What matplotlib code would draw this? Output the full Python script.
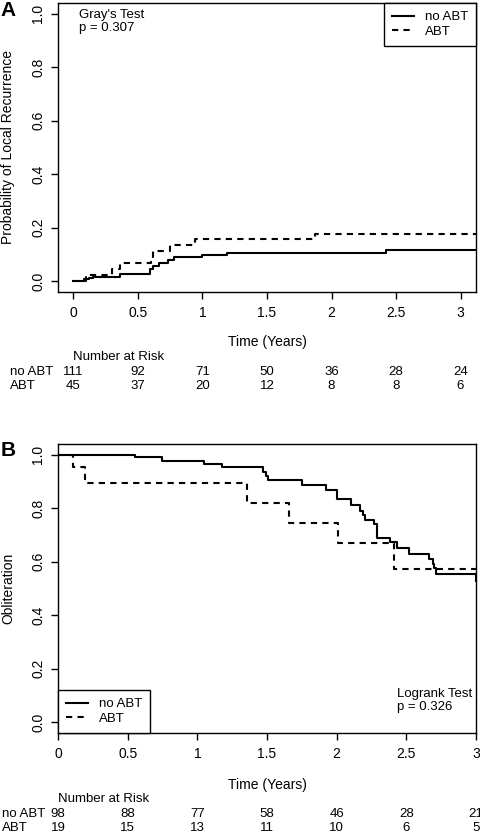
import matplotlib
matplotlib.use("Agg")
import matplotlib.pyplot as plt
import matplotlib.transforms as mtransforms

plt.rcParams['font.family'] = ['Liberation Sans', 'DejaVu Sans']

# ---- Panel A: cumulative incidence of local recurrence ----
a_noabt_t = [0, 0.085, 0.12, 0.15, 0.36, 0.59, 0.62, 0.66, 0.73, 0.78, 1.0, 1.19, 2.42, 3.12]
a_noabt_y = [0, 0.0075, 0.0125, 0.0175, 0.0275, 0.046, 0.059, 0.069, 0.081, 0.09, 0.0975, 0.105, 0.1175, 0.1175]
a_abt_t = [0, 0.1, 0.3, 0.36, 0.6, 0.62, 0.75, 0.94, 1.87, 3.12]
a_abt_y = [0, 0.022, 0.045, 0.068, 0.09, 0.113, 0.135, 0.157, 0.178, 0.178]
a_risk_noabt = [111, 92, 71, 50, 36, 28, 24]
a_risk_abt = [45, 37, 20, 12, 8, 8, 6]

# ---- Panel B: obliteration (Kaplan-Meier) ----
b_noabt_t = [0, 0.55, 0.75, 1.05, 1.18, 1.47, 1.49, 1.51, 1.75, 1.92, 2.0, 2.1, 2.17,
             2.19, 2.2, 2.27, 2.29, 2.38, 2.43, 2.52, 2.665, 2.69, 2.70, 2.71, 3.0]
b_noabt_y = [1.0, 0.99, 0.978, 0.965, 0.953, 0.937, 0.92, 0.905, 0.886, 0.869, 0.834, 0.8125, 0.79,
             0.775, 0.756, 0.74, 0.69, 0.674, 0.651, 0.6275, 0.61, 0.59, 0.575, 0.5525, 0.5275]
b_abt_t = [0, 0.108, 0.197, 1.36, 1.66, 2.006, 2.41, 3.0]
b_abt_y = [1.0, 0.9525, 0.894, 0.819, 0.745, 0.67, 0.574, 0.574]
b_risk_noabt = [98, 88, 77, 58, 46, 28, 21]
b_risk_abt = [19, 15, 13, 11, 10, 6, 5]

x_ticks = [0, 0.5, 1, 1.5, 2, 2.5, 3]
x_labels = ['0', '0.5', '1', '1.5', '2', '2.5', '3']
y_ticks = [0, 0.2, 0.4, 0.6, 0.8, 1.0]
y_labels = ['0.0', '0.2', '0.4', '0.6', '0.8', '1.0']
groups = ['no ABT', 'ABT']

W, H = 481, 833
FS = 9.5
fig = plt.figure(figsize=(W / 100, H / 100), dpi=100)


def box(left, top, right, bottom):
    return [left / W, 1 - bottom / H, (right - left) / W, (bottom - top) / H]


def fy(y):
    return 1 - y / H


def style_axes(ax, xlim):
    ax.set_xlim(*xlim)
    ax.set_ylim(-0.04, 1.04)
    ax.set_xticks(x_ticks)
    ax.set_xticklabels(x_labels)
    ax.set_yticks(y_ticks)
    ax.set_yticklabels(y_labels, rotation=90, va='center')
    ax.tick_params(direction='out', length=5, width=1, labelsize=10)
    ax.tick_params(axis='x', pad=5)
    ax.tick_params(axis='y', pad=4)
    for s in ax.spines.values():
        s.set_linewidth(1)


def risk_table(ax, y_head, y_rows, row_x, r1, r2):
    trans = mtransforms.blended_transform_factory(ax.transData, fig.transFigure)
    fig.text(0, fy(y_head), 'Number at Risk', transform=trans, ha='left', va='center', fontsize=FS)
    for name, vals, y in zip(groups, [r1, r2], y_rows):
        fig.text(row_x / W, fy(y), name, ha='left', va='center', fontsize=FS)
        for t, v in zip(x_ticks, vals):
            fig.text(t, fy(y), str(v), transform=trans, ha='center', va='center', fontsize=FS)


def legend(ax, loc):
    ax.legend(groups, loc=loc, frameon=True, fancybox=False, edgecolor='black',
              framealpha=1, borderaxespad=0, fontsize=FS, handlelength=1.7,
              handletextpad=0.8, borderpad=0.6, labelspacing=0.2).get_frame().set_linewidth(1)


# Panel A
axA = fig.add_axes(box(58, 3, 476, 292))
axA.step(a_noabt_t, a_noabt_y, where='post', color='black', lw=1.5)
axA.step(a_abt_t, a_abt_y, where='post', color='black', lw=1.5, dashes=(3, 2.5))
style_axes(axA, (-0.12, 3.12))
legend(axA, 'upper right')
axA.text(0.05, 0.98, "Gray's Test\np = 0.307", transform=axA.transAxes, ha='left', va='top',
         fontsize=FS, linespacing=1.1)
fig.text(8 / W, fy(147), 'Probability of Local Recurrence', rotation=90, ha='center', va='center', fontsize=FS + 0.5)
fig.text(267 / W, fy(342), 'Time (Years)', ha='center', va='center', fontsize=FS + 0.5)
fig.text(8 / W, fy(10), 'A', ha='center', va='center', fontsize=15, fontweight='bold')
risk_table(axA, 357, [372, 386], 10, a_risk_noabt, a_risk_abt)

# Panel B
axB = fig.add_axes(box(58, 444, 476, 733))
axB.step(b_noabt_t, b_noabt_y, where='post', color='black', lw=1.5)
axB.step(b_abt_t, b_abt_y, where='post', color='black', lw=1.5, dashes=(3, 2.5))
style_axes(axB, (0, 3))
legend(axB, 'lower left')
axB.text(0.81, 0.155, "Logrank Test\np = 0.326", transform=axB.transAxes, ha='left', va='top',
         fontsize=FS, linespacing=1.1)
fig.text(8 / W, fy(588), 'Obliteration', rotation=90, ha='center', va='center', fontsize=FS + 0.5)
fig.text(267 / W, fy(785), 'Time (Years)', ha='center', va='center', fontsize=FS + 0.5)
fig.text(8 / W, fy(450), 'B', ha='center', va='center', fontsize=15, fontweight='bold')
risk_table(axB, 799, [814, 828], 2, b_risk_noabt, b_risk_abt)

fig.savefig('out.png', dpi=100)
